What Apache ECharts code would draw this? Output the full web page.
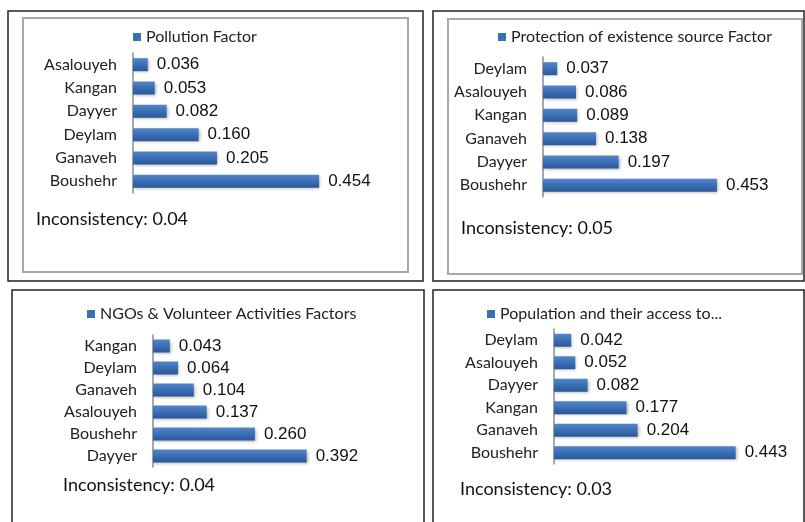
<!DOCTYPE html>
<html>
<head>
<meta charset="utf-8">
<script src="https://cdn.jsdelivr.net/npm/echarts@6/dist/echarts.min.js"></script>
<style>
	html,body{margin:0;padding:0;background:#fff;}
	#main{width:805px;height:522px;}
</style>
</head>
<body>
<div id="main"></div>
<script type="text/javascript">
// 数据
var pollutionNames = ['Asalouyeh','Kangan','Dayyer','Deylam','Ganaveh','Boushehr'];
var pollutionVals  = [0.036,0.053,0.082,0.160,0.205,0.454];

var protectNames = ['Deylam','Asalouyeh','Kangan','Ganaveh','Dayyer','Boushehr'];
var protectVals  = [0.037,0.086,0.089,0.138,0.197,0.453];

var ngoNames = ['Kangan','Deylam','Ganaveh','Asalouyeh','Boushehr','Dayyer'];
var ngoVals  = [0.043,0.064,0.104,0.137,0.260,0.392];

var popNames = ['Deylam','Asalouyeh','Dayyer','Kangan','Ganaveh','Boushehr'];
var popVals  = [0.042,0.052,0.082,0.177,0.204,0.443];

var seriesNames = ['Pollution Factor','Protection of existence source Factor','NGOs & Volunteer Activities Factors','Population and their access to...'];
var inconsistency = ['Inconsistency: 0.04','Inconsistency: 0.05','Inconsistency: 0.04','Inconsistency: 0.03'];

var myChart = echarts.init(document.getElementById('main'));

var barColor = new echarts.graphic.LinearGradient(0,0,0,1,[
	{offset:0,color:'#5386c8'},
	{offset:0.5,color:'#3a6eb5'},
	{offset:1,color:'#2b5898'}
]);

// 每个面板的位置
var grids = [
	{left:133,top:53,width:205,height:140},
	{left:543,top:57,width:192,height:140},
	{left:153,top:335,width:196,height:132},
	{left:554,top:329,width:205,height:135}
];
var legendPos = [
	{left:133,top:29},
	{left:498,top:29},
	{left:87,top:306},
	{left:487,top:306}
];
var textPos = [[36,221],[461,230],[63,487],[460,491]];
var names = [pollutionNames,protectNames,ngoNames,popNames];
var vals = [pollutionVals,protectVals,ngoVals,popVals];

var xAxes=[],yAxes=[],series=[],legends=[];
for(var i=0;i<4;i++){
	xAxes.push({gridIndex:i,type:'value',min:0,max:0.5,show:false});
	yAxes.push({
		gridIndex:i,type:'category',inverse:true,data:names[i],
		axisLine:{show:true,lineStyle:{color:'#8c8c8c',width:1.5}},
		axisTick:{show:false},
		axisLabel:{margin:16,fontFamily:'Lato',fontSize:16,color:'#222'}
	});
	series.push({
		name:seriesNames[i],type:'bar',xAxisIndex:i,yAxisIndex:i,
		data:vals[i],barWidth:13,
		itemStyle:{color:barColor,shadowColor:'rgba(0,0,0,0.3)',shadowBlur:3,shadowOffsetX:1,shadowOffsetY:1},
		label:{show:true,position:'right',distance:9,fontFamily:'Liberation Sans',fontSize:17,color:'#111',
			formatter:function(p){return p.value.toFixed(3);}},
		silent:true
	});
	legends.push({
		data:[{name:seriesNames[i],itemStyle:{color:'#3a6fb5'}}],
		left:legendPos[i].left,top:legendPos[i].top,
		icon:'rect',itemWidth:8,itemHeight:8,padding:0,
		textStyle:{fontFamily:'Lato',fontSize:16,color:'#222'},
		selectedMode:false
	});
}

var graphics = [
	{type:'rect',shape:{x:8,y:11,width:415,height:270},style:{fill:null,stroke:'#222',lineWidth:1.5}},
	{type:'rect',shape:{x:23,y:18,width:385,height:254},style:{fill:null,stroke:'#a8a8a8',lineWidth:2}},
	{type:'rect',shape:{x:433,y:11,width:371,height:270},style:{fill:null,stroke:'#222',lineWidth:1.5}},
	{type:'rect',shape:{x:448,y:19,width:354,height:255},style:{fill:null,stroke:'#a8a8a8',lineWidth:2}},
	{type:'rect',shape:{x:12,y:290,width:412,height:250},style:{fill:null,stroke:'#222',lineWidth:1.5}},
	{type:'rect',shape:{x:433,y:290,width:371,height:250},style:{fill:null,stroke:'#222',lineWidth:1.5}}
];
for(var j=0;j<4;j++){
	graphics.push({type:'text',left:textPos[j][0],top:textPos[j][1]-11,
		style:{text:inconsistency[j],font:'18px Lato',fill:'#111'}});
}

var option = {
	animation:false,
	backgroundColor:'#fff',
	grid:grids,
	xAxis:xAxes,
	yAxis:yAxes,
	legend:legends,
	series:series,
	graphic:graphics
};
myChart.setOption(option);
</script>
</body>
</html>
